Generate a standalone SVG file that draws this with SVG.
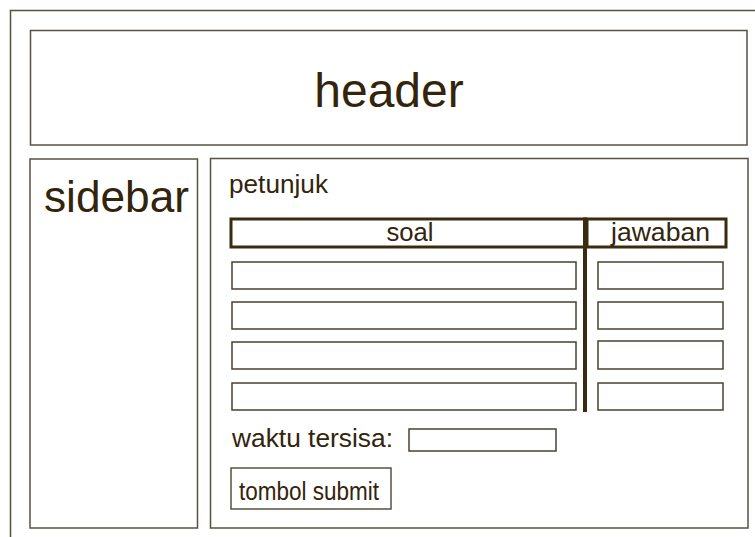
<svg xmlns="http://www.w3.org/2000/svg" width="755" height="537" viewBox="0 0 755 537">
<style>
.box{fill:#fff;stroke:#5a5040;stroke-width:1.5}
.inp{fill:#fff;stroke:#4a4232;stroke-width:1.5}
.thick{fill:none;stroke:#3a2a10;stroke-width:3}
text{font-family:"Liberation Sans",Arial,sans-serif;fill:#33240c}
</style>
<rect x="0" y="0" width="755" height="537" fill="#fff"/>
<g id="frame"><rect class="box" x="10.5" y="10.5" width="760" height="540"/></g>
<g id="header"><rect class="box" x="30.5" y="30.5" width="716.5" height="114.5"/><text x="389" y="107" font-size="48" text-anchor="middle">header</text></g>
<g id="sidebar"><rect class="box" x="30" y="159" width="167.5" height="369"/><text x="44" y="212" font-size="45" textLength="145" lengthAdjust="spacingAndGlyphs">sidebar</text></g>
<g id="content"><rect class="box" x="210.5" y="158.5" width="537.5" height="369.5"/>
<text x="229" y="193" font-size="25" textLength="99" lengthAdjust="spacingAndGlyphs">petunjuk</text></g>
<g id="table">
<rect class="thick" x="231" y="219" width="354" height="28"/>
<rect class="thick" x="587" y="219" width="139" height="28"/>
<text x="410" y="240.5" font-size="26" text-anchor="middle" textLength="47" lengthAdjust="spacingAndGlyphs">soal</text>
<text x="611" y="240.5" font-size="26" textLength="99" lengthAdjust="spacingAndGlyphs">jawaban</text>
<rect class="inp" x="232" y="262" width="344" height="27"/>
<rect class="inp" x="232" y="302" width="344" height="27"/>
<rect class="inp" x="232" y="342" width="344" height="27"/>
<rect class="inp" x="232" y="383" width="344" height="27"/>
<rect class="inp" x="598" y="262" width="125" height="27"/>
<rect class="inp" x="598" y="302" width="125" height="27"/>
<rect class="inp" x="598" y="341" width="125" height="28"/>
<rect class="inp" x="598" y="383" width="125" height="27"/>
</g>
<g id="connectors"><line x1="585" y1="217.5" x2="585" y2="412" stroke="#3a2a10" stroke-width="4"/></g>
<g id="timer"><text x="232" y="447" font-size="26" textLength="161" lengthAdjust="spacingAndGlyphs">waktu tersisa:</text><rect class="inp" x="409" y="429" width="147" height="22"/></g>
<g id="submit"><rect class="box" x="231" y="468" width="160" height="41"/><text x="239" y="500" font-size="26" textLength="140" lengthAdjust="spacingAndGlyphs">tombol submit</text></g>
</svg>
